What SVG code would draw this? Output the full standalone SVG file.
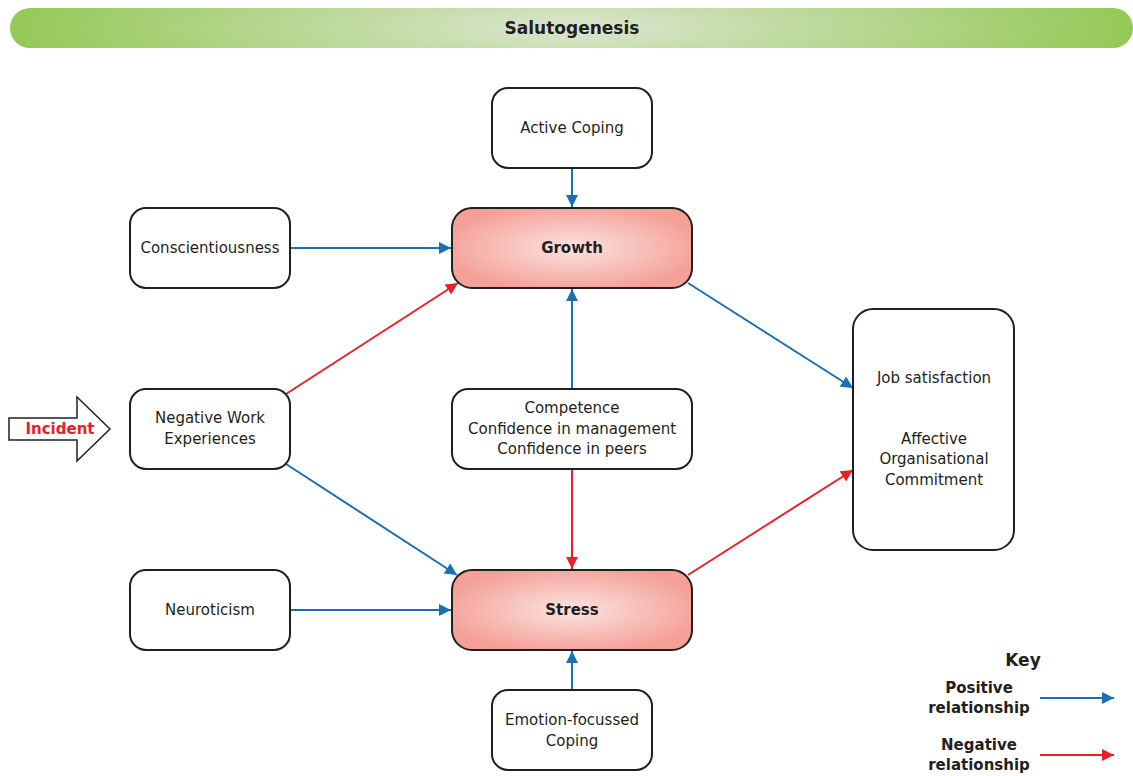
<svg xmlns="http://www.w3.org/2000/svg" width="1133" height="776" viewBox="0 0 1133 776">
<style>
text{font-family:"DejaVu Sans","Liberation Sans",sans-serif;fill:#231f20;text-anchor:middle;dominant-baseline:central}
.n{font-size:15px}
.b{font-weight:bold;font-size:15px}
.box{fill:#fff;stroke:#231f20;stroke-width:2}
.hot{fill:url(#pink);stroke:#231f20;stroke-width:2}
.pos{stroke:#1a6fb5;stroke-width:2;fill:none;marker-end:url(#ab)}
.neg{stroke:#e8202a;stroke-width:2;fill:none;marker-end:url(#ar)}
</style>
<defs>
<radialGradient id="pink" cx="0.5" cy="0.5" r="0.55">
<stop offset="0" stop-color="#fbe3e1"/>
<stop offset="1" stop-color="#f4a097"/>
</radialGradient>
<radialGradient id="green" cx="0.5" cy="0.5" r="0.5" gradientTransform="translate(0.5 0.5) scale(1 4) translate(-0.5 -0.5)">
<stop offset="0" stop-color="#dde6d2"/>
<stop offset="1" stop-color="#95c957"/>
</radialGradient>
<marker id="ab" viewBox="0 0 10 10" refX="10" refY="5" markerWidth="6" markerHeight="6" markerUnits="strokeWidth" orient="auto"><path d="M0,0 L10,5 L0,10 z" fill="#1a6fb5"/></marker>
<marker id="ar" viewBox="0 0 10 10" refX="10" refY="5" markerWidth="6" markerHeight="6" markerUnits="strokeWidth" orient="auto"><path d="M0,0 L10,5 L0,10 z" fill="#e8202a"/></marker>
</defs>
<g id="title">
<rect x="10" y="8" width="1123" height="40" rx="20" fill="url(#green)"/>
<text x="572" y="28" class="b" style="font-size:17px">Salutogenesis</text>
</g>
<g id="connectors">
<line class="pos" x1="572" y1="168" x2="572" y2="207"/>
<line class="pos" x1="291" y1="248" x2="451" y2="248"/>
<line class="neg" x1="286" y1="394" x2="458" y2="283"/>
<line class="pos" x1="286" y1="464" x2="457" y2="575"/>
<line class="pos" x1="291" y1="610" x2="451" y2="610"/>
<line class="pos" x1="572" y1="389" x2="572" y2="289"/>
<line class="neg" x1="572" y1="469" x2="572" y2="569"/>
<line class="pos" x1="572" y1="690" x2="572" y2="651"/>
<line class="pos" x1="688" y1="283" x2="853" y2="388"/>
<line class="neg" x1="688" y1="575" x2="853" y2="470"/>
</g>
<g id="incident">
<polygon points="9,418 77,418 77,397 110,429 77,461 77,440 9,440" fill="#fff" stroke="#231f20" stroke-width="1.5"/>
<text x="60" y="429" class="b" style="fill:#e8202a">Incident</text>
</g>
<g id="active-coping">
<rect class="box" x="492" y="88" width="160" height="80" rx="16"/>
<text x="572" y="128" class="n">Active Coping</text>
</g>
<g id="growth">
<rect class="hot" x="452" y="208" width="240" height="80" rx="20"/>
<text x="572" y="248" class="b">Growth</text>
</g>
<g id="conscientiousness">
<rect class="box" x="130" y="208" width="160" height="80" rx="16"/>
<text x="210" y="248" class="n">Conscientiousness</text>
</g>
<g id="negative-work">
<rect class="box" x="130" y="389" width="160" height="80" rx="16"/>
<text x="210" y="418" class="n">Negative Work</text>
<text x="210" y="439" class="n">Experiences</text>
</g>
<g id="competence">
<rect class="box" x="452" y="389" width="240" height="80" rx="16"/>
<text x="572" y="408" class="n">Competence</text>
<text x="572" y="429" class="n">Confidence in management</text>
<text x="572" y="449" class="n">Confidence in peers</text>
</g>
<g id="neuroticism">
<rect class="box" x="130" y="570" width="160" height="80" rx="16"/>
<text x="210" y="610" class="n">Neuroticism</text>
</g>
<g id="stress">
<rect class="hot" x="452" y="570" width="240" height="80" rx="20"/>
<text x="572" y="610" class="b">Stress</text>
</g>
<g id="emotion-coping">
<rect class="box" x="492" y="690" width="160" height="80" rx="16"/>
<text x="572" y="720" class="n">Emotion-focussed</text>
<text x="572" y="741" class="n">Coping</text>
</g>
<g id="outcomes">
<rect class="box" x="853" y="309" width="161" height="241" rx="20"/>
<text x="934" y="378" class="n">Job satisfaction</text>
<text x="934" y="439" class="n">Affective</text>
<text x="934" y="459" class="n">Organisational</text>
<text x="934" y="480" class="n">Commitment</text>
</g>
<g id="key">
<text x="1023" y="660" class="b" style="font-size:17px">Key</text>
<text x="979" y="688" class="b">Positive</text>
<text x="979" y="708" class="b">relationship</text>
<line class="pos" x1="1040" y1="698" x2="1114" y2="698"/>
<text x="979" y="745" class="b">Negative</text>
<text x="979" y="765" class="b">relationship</text>
<line class="neg" x1="1040" y1="755" x2="1114" y2="755"/>
</g>
</svg>
